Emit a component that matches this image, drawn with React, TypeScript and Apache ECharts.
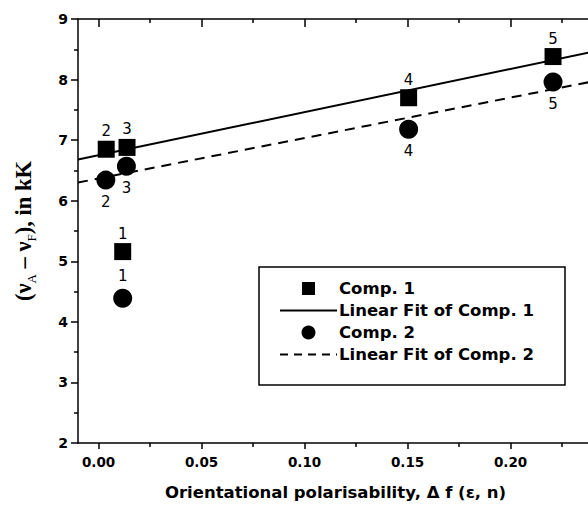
import React, { useEffect, useRef } from "react";
import * as echarts from "echarts";

// ---- data ----
const pointLabels = ["1", "2", "3", "4", "5"];
const comp1X = [0.0117, 0.0037, 0.0138, 0.1505, 0.2206];
const comp1Y = [5.16, 6.85, 6.88, 7.7, 8.38];
const comp2X = [0.0117, 0.0035, 0.0135, 0.1505, 0.2206];
const comp2Y = [4.39, 6.34, 6.57, 7.18, 7.96];
const fitX = [-0.01, 0.24];
const fit1Y = [6.68, 8.46];
const fit2Y = [6.3, 7.97];
const xMajorTicks = [0, 0.05, 0.1, 0.15, 0.2];
const xMinorTicks = [0.025, 0.075, 0.125, 0.175, 0.225];
const legendNames = ["Comp. 1", "Linear Fit of Comp. 1", "Comp. 2", "Linear Fit of Comp. 2"];

const SANS = '"DejaVu Sans", Verdana, sans-serif';
const SERIF = '"Liberation Serif", "Times New Roman", serif';
const BLACK = "#000";

const comp2LabelPos = ["top", "bottom", "bottom", "bottom", "bottom"];

function buildOption() {
  const xBase = {
    type: "value",
    min: -0.01,
    max: 0.24,
    splitLine: { show: false },
    axisLine: { show: false, onZero: false, lineStyle: { color: BLACK, width: 1.5 } },
    axisTick: { show: false },
    axisLabel: { show: false },
  };
  const labelStyle = {
    show: true,
    color: BLACK,
    opacity: 1,
    textBorderWidth: 0,
    fontFamily: SANS,
    fontSize: 15,
    fontWeight: "normal",
  };
  return {
    animation: false,
    backgroundColor: "#fff",
    grid: { left: 78, top: 19, right: -5, bottom: 64, containLabel: false, outerBoundsMode: "none" },
    xAxis: [
      {
        ...xBase,
        position: "bottom",
        axisLine: { show: true, onZero: false, lineStyle: { color: BLACK, width: 1.5 } },
        axisTick: { show: true, inside: false, length: 6, customValues: xMajorTicks, lineStyle: { color: BLACK, width: 1.5 } },
        axisLabel: {
          show: true,
          customValues: xMajorTicks,
          formatter: (v: number) => v.toFixed(2),
          color: BLACK,
          fontFamily: SANS,
          fontWeight: "bold",
          fontSize: 13.5,
          margin: 12,
        },
        name: "Orientational polarisability, \u0394 f (\u03b5, n)",
        nameLocation: "middle",
        nameGap: 41,
        nameTextStyle: { color: BLACK, fontFamily: SANS, fontWeight: "bold", fontSize: 16.5 },
      },
      {
        ...xBase,
        position: "bottom",
        axisTick: { show: true, inside: false, length: 4, customValues: xMinorTicks, lineStyle: { color: BLACK, width: 1.5 } },
      },
      {
        ...xBase,
        position: "top",
        axisLine: { show: true, onZero: false, lineStyle: { color: BLACK, width: 1.5 } },
        axisTick: { show: true, inside: true, length: 8, customValues: xMajorTicks, lineStyle: { color: BLACK, width: 1.5 } },
      },
      {
        ...xBase,
        position: "top",
        axisTick: { show: true, inside: true, length: 4, customValues: xMinorTicks, lineStyle: { color: BLACK, width: 1.5 } },
      },
    ],
    yAxis: {
      type: "value",
      min: 2,
      max: 9,
      interval: 1,
      position: "left",
      splitLine: { show: false },
      axisLine: { show: true, onZero: false, lineStyle: { color: BLACK, width: 1.5 } },
      axisTick: { show: true, inside: false, length: 7, lineStyle: { color: BLACK, width: 1.5 } },
      minorTick: { show: true, splitNumber: 2, length: 4, lineStyle: { color: BLACK, width: 1.5 } },
      minorSplitLine: { show: false },
      axisLabel: { color: BLACK, fontFamily: SANS, fontWeight: "bold", fontSize: 14, margin: 10 },
      name: "{t|(\u03bd}{s|A}{t| \u2013 \u03bd}{s|F}{t|), in kK}",
      nameLocation: "middle",
      nameGap: 40,
      nameTextStyle: {
        color: BLACK,
        rich: {
          t: { fontFamily: SERIF, fontWeight: "bold", fontSize: 22.5, lineHeight: 30, color: BLACK },
          s: { fontFamily: SERIF, fontSize: 13, verticalAlign: "bottom", lineHeight: 13, color: BLACK },
        },
      },
    },
    series: [
      {
        name: legendNames[1],
        type: "line",
        xAxisIndex: 0,
        data: fitX.map((x, i) => [x, fit1Y[i]]),
        showSymbol: false,
        lineStyle: { color: BLACK, width: 2, opacity: 1 },
        z: 1,
      },
      {
        name: legendNames[3],
        type: "line",
        xAxisIndex: 0,
        data: fitX.map((x, i) => [x, fit2Y[i]]),
        showSymbol: false,
        lineStyle: { color: BLACK, width: 2, type: [10, 7], opacity: 1 },
        z: 1,
      },
      {
        name: legendNames[0],
        type: "scatter",
        xAxisIndex: 0,
        symbol: "rect",
        symbolSize: 17,
        itemStyle: { color: BLACK, opacity: 1 },
        label: { ...labelStyle, position: "top", distance: 2, formatter: (p: any) => pointLabels[p.dataIndex] },
        data: comp1X.map((x, i) => [x, comp1Y[i]]),
        z: 3,
      },
      {
        name: legendNames[2],
        type: "scatter",
        xAxisIndex: 0,
        symbol: "circle",
        symbolSize: 19,
        itemStyle: { color: BLACK, opacity: 1 },
        label: { ...labelStyle, distance: 5, formatter: (p: any) => pointLabels[p.dataIndex] },
        data: comp2X.map((x, i) => ({ value: [x, comp2Y[i]], label: { position: comp2LabelPos[i] } })),
        z: 3,
      },
    ],
    graphic: [
      {
        type: "group",
        z: 10,
        children: [
          { type: "rect", shape: { x: 259, y: 267, width: 306, height: 118 }, style: { fill: "#fff", stroke: BLACK, lineWidth: 1.5 } },
          { type: "rect", shape: { x: 302, y: 282, width: 13, height: 13 }, style: { fill: BLACK } },
          { type: "line", shape: { x1: 280, y1: 310.5, x2: 337, y2: 310.5 }, style: { stroke: BLACK, lineWidth: 2 } },
          { type: "circle", shape: { cx: 308.5, cy: 332.5, r: 7 }, style: { fill: BLACK } },
          { type: "line", shape: { x1: 280, y1: 354.5, x2: 337, y2: 354.5 }, style: { stroke: BLACK, lineWidth: 2, lineDash: [8, 6] } },
          ...legendNames.map((n, i) => ({
            type: "text",
            x: 339,
            y: 288.5 + i * 22,
            style: {
              text: n,
              fill: BLACK,
              font: `bold 16.5px ${SANS}`,
              verticalAlign: "middle",
              align: "left",
            },
          })),
        ],
      },
    ],
  };
}

export default function App() {
  const ref = useRef<HTMLDivElement>(null);
  useEffect(() => {
    if (!ref.current) return;
    const chart = echarts.init(ref.current, null, { renderer: "svg" });
    chart.setOption(buildOption() as any);
    return () => chart.dispose();
  }, []);
  return (
    <div
      ref={ref}
      style={{ position: "fixed", left: 0, top: 0, width: 588, height: 507, background: "#fff" }}
    />
  );
}
